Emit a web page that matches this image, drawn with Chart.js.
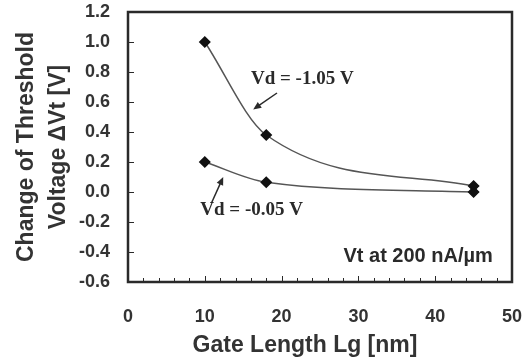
<!DOCTYPE html>
<html>
<head>
<meta charset="utf-8">
<script src="https://cdn.jsdelivr.net/npm/chart.js@4/dist/chart.umd.min.js"></script>
<style>
  body { margin: 0; background: #fff; }
  canvas { display: block; }
</style>
</head>
<body>
<canvas id="vtChart" width="528" height="363"></canvas>
<script>
// data
const gateLength = [10, 18, 45];
const vdHigh = [1.0, 0.38, 0.04];   // Vd = -1.05 V
const vdLow = [0.2, 0.065, 0.0];    // Vd = -0.05 V

const xRange = [0, 50];
const yRange = [-0.6, 1.2];
const xStep = 10;
const yStep = 0.2;

const yTitle = ['Change of Threshold', 'Voltage \u0394Vt [V]'];
const xTitle = 'Gate Length Lg [nm]';

// labels in data coordinates: text, x, y, arrow tail, arrow head
const notes = [
    { text: 'Vd = -1.05 V', x: 22.7, y: 0.75, tail: [19.4, 0.66], head: [16.3, 0.55] },
    { text: 'Vd = -0.05 V', x: 16.1, y: -0.12, tail: [10.9, -0.07], head: [12.4, 0.1] }
];
const condition = { text: 'Vt at 200 nA/\u00b5m', x: 47.5, y: -0.43 };

const ink = '#2a2a2a';

function toPoints(ys) {
    return gateLength.map((x, i) => ({ x: x, y: ys[i] }));
}

function arrow(ctx, x1, y1, x2, y2) {
    const a = Math.atan2(y2 - y1, x2 - x1);
    ctx.beginPath();
    ctx.moveTo(x1, y1);
    ctx.lineTo(x2 - 4 * Math.cos(a), y2 - 4 * Math.sin(a));
    ctx.stroke();
    ctx.beginPath();
    ctx.moveTo(x2, y2);
    ctx.lineTo(x2 - 8 * Math.cos(a) + 3.5 * Math.sin(a), y2 - 8 * Math.sin(a) - 3.5 * Math.cos(a));
    ctx.lineTo(x2 - 8 * Math.cos(a) - 3.5 * Math.sin(a), y2 - 8 * Math.sin(a) + 3.5 * Math.cos(a));
    ctx.closePath();
    ctx.fill();
}

// let layout.padding alone decide the plot box
function noOverflow(scale) {
    scale.paddingTop = 0;
    scale.paddingBottom = 0;
    scale.paddingLeft = 0;
    scale.paddingRight = 0;
}

const framePlugin = {
    id: 'frame',
    afterDraw(chart) {
        const ctx = chart.ctx;
        const area = chart.chartArea;
        const xs = chart.scales.x;
        const ys = chart.scales.y;
        ctx.save();
        ctx.strokeStyle = ink;
        ctx.fillStyle = ink;

        // inner ticks
        ctx.lineWidth = 1;
        for (let v = yRange[0]; v <= yRange[1] + 1e-9; v += yStep) {
            const py = Math.round(ys.getPixelForValue(v)) + 0.5;
            ctx.beginPath();
            ctx.moveTo(area.left, py);
            ctx.lineTo(area.left + 6, py);
            ctx.stroke();
        }
        for (let v = xRange[0]; v <= xRange[1]; v += 2) {
            const px = Math.round(xs.getPixelForValue(v)) + 0.5;
            ctx.beginPath();
            ctx.moveTo(px, area.bottom);
            ctx.lineTo(px, area.bottom - (v % 10 === 0 ? 6 : 4));
            ctx.stroke();
        }

        // box
        ctx.lineWidth = 2.5;
        ctx.strokeRect(area.left, area.top, area.right - area.left, area.bottom - area.top);

        // annotations
        ctx.lineWidth = 1.5;
        ctx.textAlign = 'center';
        ctx.textBaseline = 'middle';
        ctx.font = 'bold 19px "Liberation Serif", serif';
        notes.forEach(n => {
            ctx.fillText(n.text, xs.getPixelForValue(n.x), ys.getPixelForValue(n.y));
            arrow(ctx,
                xs.getPixelForValue(n.tail[0]), ys.getPixelForValue(n.tail[1]),
                xs.getPixelForValue(n.head[0]), ys.getPixelForValue(n.head[1]));
        });
        ctx.font = 'bold 20px "Liberation Sans", Arial, sans-serif';
        ctx.textAlign = 'right';
        ctx.fillText(condition.text, xs.getPixelForValue(condition.x), ys.getPixelForValue(condition.y));

        // axis titles
        ctx.font = 'bold 23px "Liberation Sans", Arial, sans-serif';
        ctx.textAlign = 'center';
        ctx.fillStyle = '#333';
        ctx.fillText(xTitle, 305, 346);
        const midY = (area.top + area.bottom) / 2;
        [27, 59].forEach((tx, i) => {
            ctx.save();
            ctx.translate(tx, midY);
            ctx.rotate(-Math.PI / 2);
            ctx.fillText(yTitle[i], 0, 0);
            ctx.restore();
        });
        ctx.restore();
    }
};

const series = {
    borderColor: '#555',
    borderWidth: 1.5,
    pointStyle: 'rectRot',
    pointRadius: 5,
    pointBackgroundColor: '#111',
    pointBorderColor: '#111',
    fill: false,
    cubicInterpolationMode: 'monotone'
};

new Chart(document.getElementById('vtChart'), {
    type: 'line',
    data: {
        datasets: [
            Object.assign({ label: 'Vd = -1.05 V', data: toPoints(vdHigh) }, series),
            Object.assign({ label: 'Vd = -0.05 V', data: toPoints(vdLow) }, series)
        ]
    },
    options: {
        responsive: false,
        devicePixelRatio: 1,
        animation: false,
        layout: { padding: { left: 0, top: 12, right: 16, bottom: 0 } },
        plugins: {
            legend: { display: false },
            tooltip: { enabled: false }
        },
        scales: {
            x: {
                type: 'linear',
                min: xRange[0],
                max: xRange[1],
                grid: { display: false, drawTicks: false },
                border: { display: false },
                ticks: {
                    stepSize: xStep,
                    padding: 24,
                    maxRotation: 0,
                    color: '#333',
                    font: { family: '"Liberation Sans", Arial, sans-serif', size: 18, weight: 'bold' }
                },
                afterFit(scale) { scale.height = 81; noOverflow(scale); }
            },
            y: {
                min: yRange[0],
                max: yRange[1],
                grid: { display: false, drawTicks: false },
                border: { display: false },
                ticks: {
                    stepSize: yStep,
                    padding: 18,
                    color: '#333',
                    font: { family: '"Liberation Sans", Arial, sans-serif', size: 18, weight: 'bold' },
                    callback: v => v.toFixed(1)
                },
                afterFit(scale) { scale.width = 128; noOverflow(scale); }
            }
        }
    },
    plugins: [framePlugin]
});
</script>
</body>
</html>
